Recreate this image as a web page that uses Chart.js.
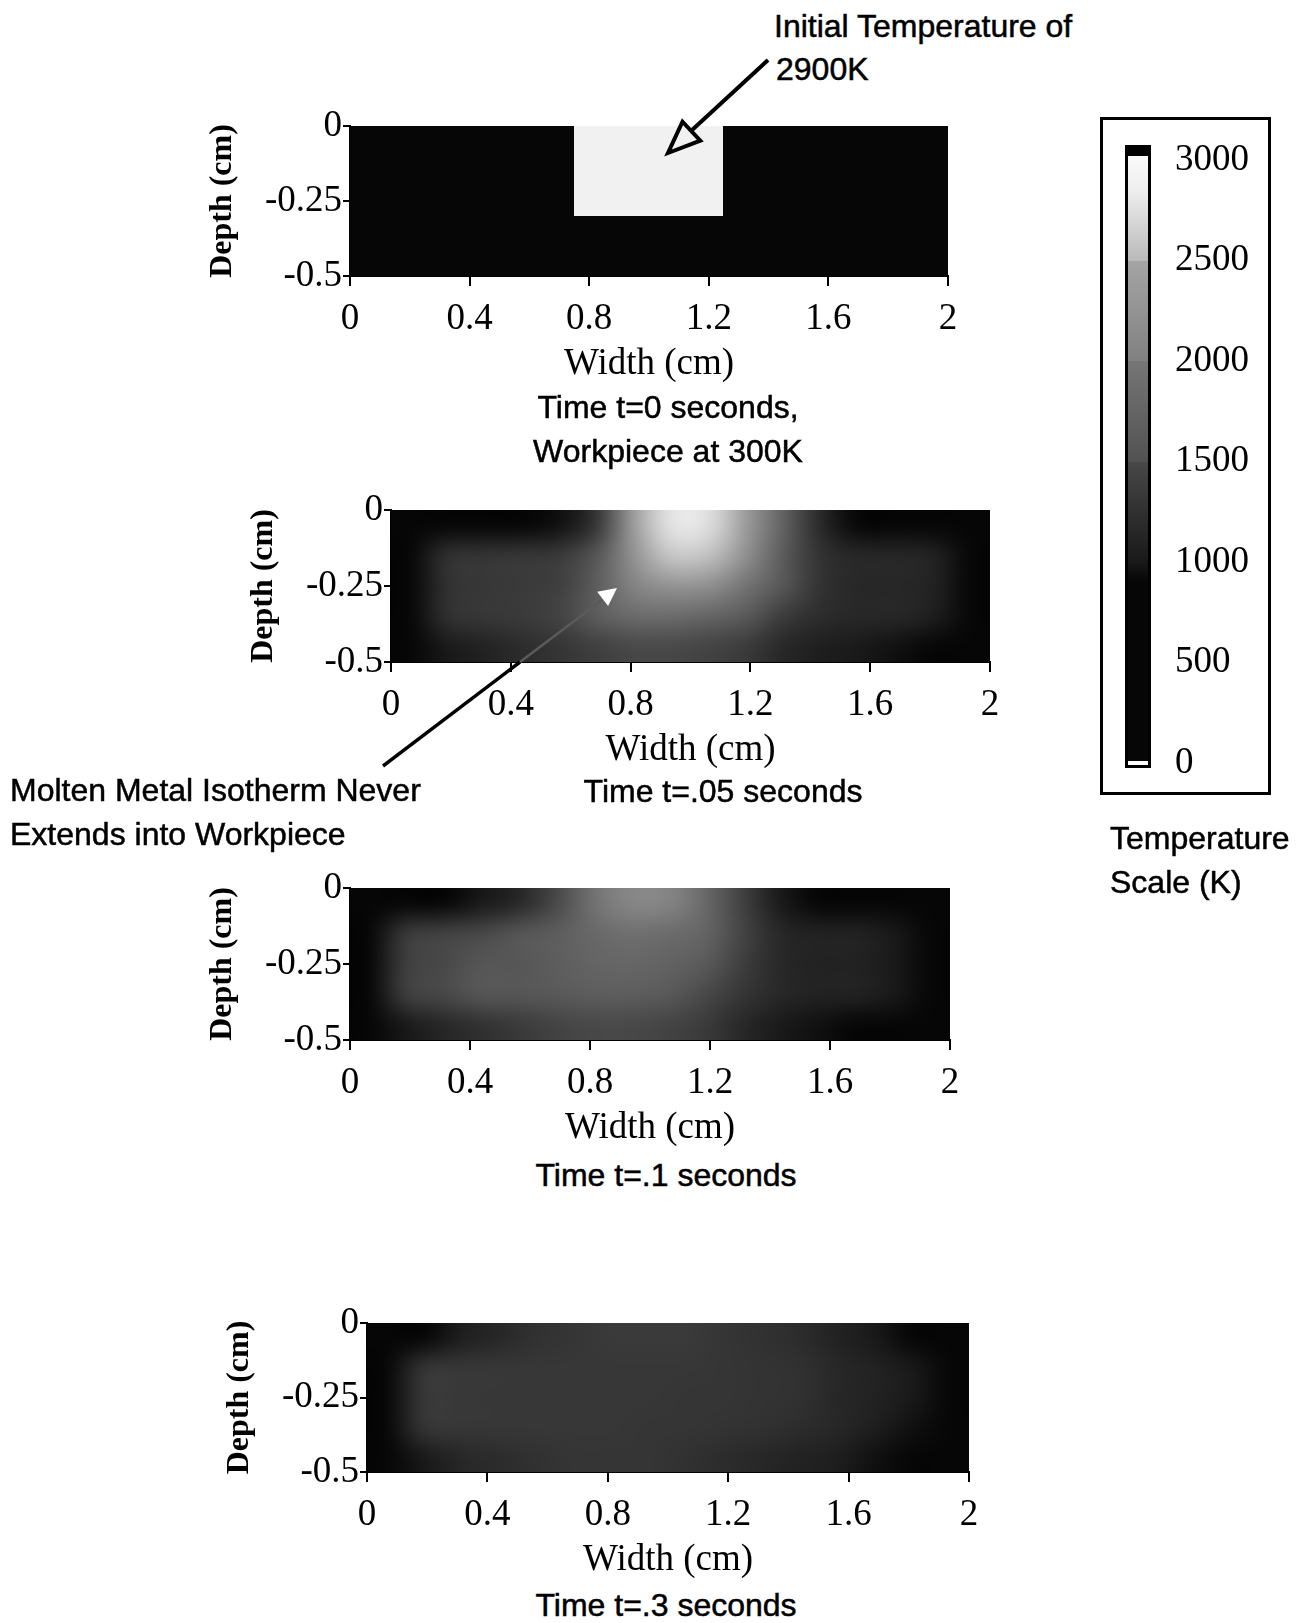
<!DOCTYPE html>
<html>
<head>
<meta charset="utf-8">
<title>Workpiece temperature evolution</title>
<script src="https://cdn.jsdelivr.net/npm/chart.js@4.4.0/dist/chart.umd.min.js"></script>
<style>
  html, body { margin: 0; padding: 0; background: #fff; }
  body { position: relative; width: 1300px; height: 1623px; overflow: hidden;
         font-family: "Liberation Sans", Arial, Helvetica, sans-serif; color: #000; }
  canvas.cv { position: absolute; }
  .txt { position: absolute; font-size: 32px; line-height: 44px; white-space: nowrap;
         -webkit-text-stroke: 0.5px #000; }
  .ctr { transform: translateX(-50%); text-align: center; }
  #scalebox { position: absolute; left: 1100px; top: 117px; width: 171px; height: 678px;
              border: 3px solid #000; box-sizing: border-box; }
  svg.overlay { position: absolute; left: 0; top: 0; pointer-events: none; }
</style>
</head>
<body>
<div id="scalebox"></div>

<canvas class="cv" id="p1"></canvas>
<canvas class="cv" id="p2"></canvas>
<canvas class="cv" id="p3"></canvas>
<canvas class="cv" id="p4"></canvas>
<canvas class="cv" id="cbar"></canvas>

<div class="txt" style="left:774px; top:4px;">Initial Temperature of</div>
<div class="txt" style="left:776px; top:47px;">2900K</div>

<div class="txt ctr" style="left:668px; top:385px;">Time t=0 seconds,<br>Workpiece at 300K</div>
<div class="txt ctr" style="left:723px; top:769px;">Time t=.05 seconds</div>
<div class="txt ctr" style="left:666px; top:1153px;">Time t=.1 seconds</div>
<div class="txt ctr" style="left:666px; top:1583px;">Time t=.3 seconds</div>

<div class="txt" style="left:10px; top:768px;">Molten Metal Isotherm Never<br>Extends into Workpiece</div>
<div class="txt" style="left:1110px; top:816px;">Temperature<br>Scale (K)</div>

<svg class="overlay" width="1300" height="1623" viewBox="0 0 1300 1623">
  <!-- pointer to the initial hot block -->
  <line x1="768" y1="60" x2="691" y2="131" stroke="#000" stroke-width="4"/>
  <polygon points="668,153 700.3,140.7 682.5,121.7" fill="none" stroke="#000" stroke-width="4" stroke-linejoin="miter"/>
  <!-- pointer to the molten isotherm -->
  <line x1="383" y1="766" x2="520" y2="662" stroke="#000" stroke-width="3.5"/>
  <line x1="520" y1="662" x2="602" y2="600" stroke="#5a5a5a" stroke-width="2.5"/>
  <polygon points="617,588 608.1,606.1 597.2,591.7" fill="#fff" stroke="none"/>
</svg>

<script>
// ---- axis ticks -------------------------------------------------------
const widthTicks = [0, 0.4, 0.8, 1.2, 1.6, 2];          // cm
const depthTicks = [0, -0.25, -0.5];                    // cm
const scaleTicks = [0, 500, 1000, 1500, 2000, 2500, 3000]; // K

// ---- grid cell centres ------------------------------------------------
const widthCells = [0.0625, 0.1875, 0.3125, 0.4375, 0.5625, 0.6875, 0.8125, 0.9375,
                    1.0625, 1.1875, 1.3125, 1.4375, 1.5625, 1.6875, 1.8125, 1.9375];
const depthCells = [-0.05, -0.15, -0.25, -0.35, -0.45];

// ---- temperature fields (K), one row per depth cell -------------------
const temp_t0 = [
  [300, 300, 300, 300, 300, 300, 2900, 2900, 2900, 2900, 300, 300, 300, 300, 300, 300],
  [300, 300, 300, 300, 300, 300, 2900, 2900, 2900, 2900, 300, 300, 300, 300, 300, 300],
  [300, 300, 300, 300, 300, 300, 2900, 2900, 2900, 2900, 300, 300, 300, 300, 300, 300],
  [300, 300, 300, 300, 300, 300,  300,  300,  300,  300, 300, 300, 300, 300, 300, 300],
  [300, 300, 300, 300, 300, 300,  300,  300,  300,  300, 300, 300, 300, 300, 300, 300]
];
const temp_t005 = [
  [600,  800,  850,  900,  950, 1300, 2400, 2800, 2750, 2350, 1700, 1150,  900,  850,  800, 600],
  [650, 1250, 1300, 1320, 1350, 1550, 2250, 2600, 2550, 2200, 1600, 1250, 1150, 1150, 1100, 600],
  [650, 1250, 1320, 1350, 1400, 1650, 2050, 2250, 2200, 1950, 1550, 1250, 1150, 1150, 1100, 600],
  [650, 1250, 1320, 1350, 1450, 1650, 1850, 1850, 1750, 1600, 1350, 1200, 1150, 1150, 1050, 600],
  [600, 1000, 1100, 1200, 1300, 1400, 1500, 1500, 1450, 1350, 1150, 1050, 1000,  950,  900, 600]
];
const temp_t01 = [
  [600,  800,  900, 1000, 1150, 1500, 1950, 2100, 2050, 1800, 1400, 1000,  850,  800,  750, 600],
  [650, 1350, 1450, 1500, 1550, 1650, 1800, 1900, 1850, 1750, 1450, 1150, 1100, 1100, 1000, 600],
  [650, 1400, 1500, 1550, 1550, 1650, 1750, 1780, 1720, 1600, 1380, 1150, 1100, 1100, 1000, 600],
  [650, 1400, 1500, 1550, 1550, 1600, 1650, 1650, 1600, 1500, 1300, 1150, 1100, 1100, 1000, 600],
  [600, 1000, 1150, 1250, 1350, 1450, 1500, 1500, 1450, 1350, 1150, 1000,  950,  900,  850, 600]
];
const temp_t03 = [
  [600,  900, 1050, 1150, 1250, 1300, 1350, 1350, 1350, 1300, 1250, 1200, 1100, 1000,  850, 600],
  [650, 1300, 1320, 1320, 1320, 1320, 1320, 1320, 1320, 1300, 1280, 1250, 1150, 1100, 1000, 600],
  [650, 1330, 1330, 1320, 1320, 1320, 1320, 1320, 1300, 1300, 1280, 1250, 1150, 1100, 1000, 600],
  [650, 1300, 1320, 1320, 1320, 1320, 1320, 1300, 1300, 1280, 1250, 1200, 1150, 1050,  950, 600],
  [600, 1000, 1150, 1200, 1250, 1300, 1300, 1300, 1250, 1200, 1150, 1100, 1050,  950,  850, 600]
];

// ---- grey-level colour map (temperature K -> grey 0..255) -------------
const grayStops = [[900, 6], [1000, 25], [1500, 72], [1500, 82], [2000, 118], [2000, 128],
                   [2500, 165], [2500, 185], [2850, 238], [3000, 248]];

function grayFor(v) {
  if (v >= 3020 || v < -12) return 0;   // over-range cap and frame
  if (v < 12) return 255;                // zero marker
  if (v <= grayStops[0][0]) return grayStops[0][1];
  for (let i = 1; i < grayStops.length; i++) {
    const [v0, g0] = grayStops[i - 1];
    const [v1, g1] = grayStops[i];
    if (v <= v1) {
      if (v1 === v0) continue;
      return g0 + (g1 - g0) * (v - v0) / (v1 - v0);
    }
  }
  return grayStops[grayStops.length - 1][1];
}
function grayCss(v) {
  const g = Math.round(grayFor(v));
  return `rgb(${g},${g},${g})`;
}

const SERIF = '"Liberation Serif", "Times New Roman", Times, serif';

// Paints each temperature cell through the x/y scales.
const heatLayer = {
  id: 'heatLayer',
  beforeDatasetsDraw(chart, args, opts) {
    const { ctx, chartArea } = chart;
    const xs = chart.scales.x, ys = chart.scales.y;
    const pts = chart.data.datasets[0].data;
    const hw = (widthCells[1] - widthCells[0]) / 2;
    const hh = (depthCells[0] - depthCells[1]) / 2;
    ctx.save();
    ctx.beginPath();
    ctx.rect(chartArea.left, chartArea.top, chartArea.width, chartArea.height);
    ctx.clip();
    if (opts.smooth) {
      const cols = widthCells.length, rows = depthCells.length;
      const off = document.createElement('canvas');
      off.width = cols; off.height = rows;
      const octx = off.getContext('2d');
      pts.forEach(p => {
        octx.fillStyle = grayCss(p.v);
        octx.fillRect(widthCells.indexOf(p.x), depthCells.indexOf(p.y), 1, 1);
      });
      const x0 = xs.getPixelForValue(widthCells[0] - hw);
      const x1 = xs.getPixelForValue(widthCells[cols - 1] + hw);
      const y0 = ys.getPixelForValue(depthCells[0] + hh);
      const y1 = ys.getPixelForValue(depthCells[rows - 1] - hh);
      ctx.imageSmoothingEnabled = true;
      ctx.imageSmoothingQuality = 'high';
      ctx.drawImage(off, x0, y0, x1 - x0, y1 - y0);
    } else {
      pts.forEach(p => {
        const x0 = xs.getPixelForValue(p.x - hw), x1 = xs.getPixelForValue(p.x + hw);
        const y0 = ys.getPixelForValue(p.y + hh), y1 = ys.getPixelForValue(p.y - hh);
        ctx.fillStyle = grayCss(p.v);
        ctx.fillRect(Math.floor(x0), Math.floor(y0), Math.ceil(x1 - x0) + 1, Math.ceil(y1 - y0) + 1);
      });
    }
    ctx.restore();
  }
};

// Paints the colour scale strip through its y scale.
const scaleStrip = {
  id: 'scaleStrip',
  beforeDatasetsDraw(chart) {
    const { ctx, chartArea } = chart;
    const ys = chart.scales.y;
    ctx.save();
    for (let py = Math.floor(chartArea.top); py < chartArea.bottom; py++) {
      const v = ys.getValueForPixel(py + 0.5);
      ctx.fillStyle = grayCss(v);
      ctx.fillRect(chartArea.left, py, chartArea.width, 1);
    }
    ctx.strokeStyle = '#000';
    ctx.lineWidth = 3;
    ctx.strokeRect(chartArea.left + 1.5, chartArea.top + 1.5, chartArea.width - 3, chartArea.height - 3);
    ctx.restore();
  }
};

function cellsOf(field) {
  const out = [];
  depthCells.forEach((d, r) => widthCells.forEach((w, c) => out.push({ x: w, y: d, v: field[r][c] })));
  return out;
}

// plot-area rectangles [left, top, right, bottom] in page pixels
const panels = [
  { id: 'p1', area: [350, 126, 948, 276], field: temp_t0,   smooth: false },
  { id: 'p2', area: [391, 510, 990, 662], field: temp_t005, smooth: true },
  { id: 'p3', area: [350, 888, 950, 1040], field: temp_t01,  smooth: true },
  { id: 'p4', area: [367, 1323, 969, 1472], field: temp_t03, smooth: true }
];

const Y_AXIS_W = 160, X_AXIS_H = 110, PAD_TOP = 26, PAD_RIGHT = 22;
const TICK_FONT = { family: SERIF, size: 37 };

panels.forEach(pn => {
  const [L, T, R, B] = pn.area;
  const cv = document.getElementById(pn.id);
  cv.width = (R - L) + Y_AXIS_W + PAD_RIGHT;
  cv.height = (B - T) + PAD_TOP + X_AXIS_H;
  cv.style.left = (L - Y_AXIS_W) + 'px';
  cv.style.top = (T - PAD_TOP) + 'px';

  new Chart(cv, {
    type: 'scatter',
    data: { datasets: [{ data: cellsOf(pn.field), pointRadius: 0, pointHoverRadius: 0 }] },
    options: {
      responsive: false,
      animation: false,
      events: [],
      devicePixelRatio: 1,
      layout: { padding: { top: PAD_TOP, right: PAD_RIGHT, left: 0, bottom: 0 } },
      plugins: {
        legend: { display: false },
        tooltip: { enabled: false },
        heatLayer: { smooth: pn.smooth }
      },
      scales: {
        x: {
          type: 'linear', position: 'bottom', min: 0, max: 2,
          afterBuildTicks: s => { s.ticks = widthTicks.map(v => ({ value: v })); },
          afterFit: s => { s.height = X_AXIS_H; },
          grid: { display: true, drawOnChartArea: false, drawTicks: true, tickLength: 10, color: '#000', lineWidth: 2 },
          border: { display: true, color: '#000', width: 2 },
          ticks: { color: '#000', padding: 11, maxRotation: 0, autoSkip: false,
                   font: TICK_FONT, callback: v => String(v) },
          title: { display: true, text: 'Width (cm)', color: '#000',
                   font: TICK_FONT, padding: { top: 0, bottom: 0 } }
        },
        y: {
          type: 'linear', position: 'left', min: -0.5, max: 0,
          afterBuildTicks: s => { s.ticks = depthTicks.map(v => ({ value: v })); },
          afterFit: s => { s.width = Y_AXIS_W; },
          grid: { display: true, drawOnChartArea: false, drawTicks: true, tickLength: 7, color: '#000', lineWidth: 2 },
          border: { display: true, color: '#000', width: 2 },
          ticks: { color: '#000', padding: 1, autoSkip: false,
                   font: TICK_FONT, callback: v => String(v) },
          title: { display: true, text: 'Depth (cm)', color: '#000',
                   font: { family: SERIF, size: 32, weight: 'bold' }, padding: { top: 14, bottom: 0 } }
        }
      }
    },
    plugins: [heatLayer]
  });
});

// temperature scale strip
(function () {
  const PAD_V = 50;
  const cv = document.getElementById('cbar');
  cv.width = 150; cv.height = 623 + 2 * PAD_V;
  cv.style.left = '1115px'; cv.style.top = (145 - PAD_V) + 'px';
  new Chart(cv, {
    type: 'scatter',
    data: { datasets: [{ data: [], pointRadius: 0 }] },
    options: {
      responsive: false,
      animation: false,
      events: [],
      devicePixelRatio: 1,
      layout: { padding: { left: 10, top: PAD_V, bottom: PAD_V, right: 0 } },
      plugins: { legend: { display: false }, tooltip: { enabled: false } },
      scales: {
        x: { display: false, min: 0, max: 1 },
        y: {
          type: 'linear', position: 'right', min: -25, max: 3075,
          afterBuildTicks: s => { s.ticks = scaleTicks.map(v => ({ value: v })); },
          afterFit: s => { s.width = 114; },
          grid: { display: false, drawTicks: false },
          border: { display: false },
          ticks: { color: '#000', padding: 24, autoSkip: false,
                   font: TICK_FONT, callback: v => String(v) }
        }
      }
    },
    plugins: [scaleStrip]
  });
})();
</script>
</body>
</html>
